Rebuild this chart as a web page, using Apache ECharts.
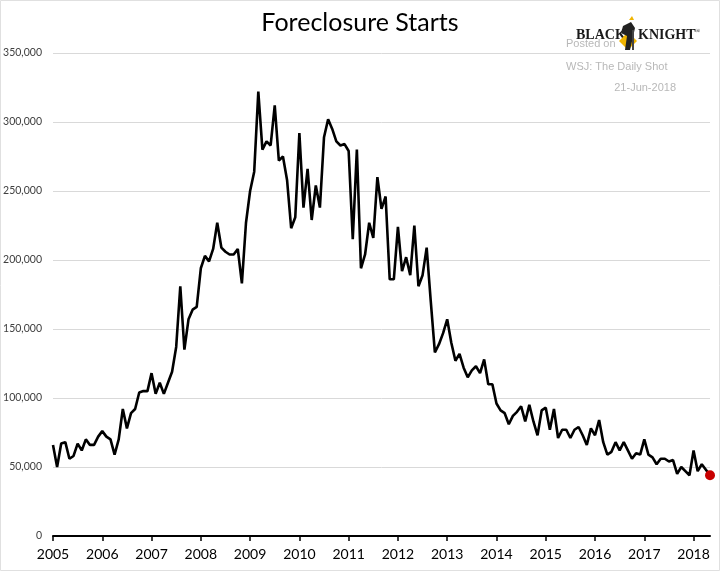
<!DOCTYPE html>
<html>
<head>
<meta charset="utf-8">
<script src="https://cdn.jsdelivr.net/npm/echarts@6/dist/echarts.min.js"></script>
<style>
html,body{margin:0;padding:0;background:#fff;}
#c{width:720px;height:571px;}
</style>
</head>
<body>
<div id="c"></div>
<script>
// Tick labels (years) on the x axis
var yearLabels = ['2005','2006','2007','2008','2009','2010','2011','2012','2013','2014','2015','2016','2017','2018'];
// Monthly foreclosure starts, thousands (Jan 2005 - May 2018)
var starts2005 = [66, 50, 67, 68, 56, 58, 67, 62, 70, 66, 66, 72];
var starts2006 = [76, 72, 70, 59, 70, 92, 78, 89, 92, 104, 105, 105];
var starts2007 = [118, 103, 111, 103, 111, 119, 137, 181, 135, 157, 164, 166];
var starts2008 = [194, 203, 199, 208, 227, 209, 206, 204, 204, 208, 183, 227];
var starts2009 = [250, 264, 322, 280, 286, 283, 312, 272, 275, 258, 223, 231];
var starts2010 = [292, 238, 266, 229, 254, 238, 289, 302, 295, 286, 283, 284];
var starts2011 = [279, 215, 280, 194, 204, 227, 216, 260, 237, 246, 186, 186];
var starts2012 = [224, 192, 202, 189, 225, 181, 189, 209, 170, 133, 139, 147];
var starts2013 = [157, 140, 127, 132, 122, 115, 120, 123, 118, 128, 110, 110];
var starts2014 = [96, 91, 89, 81, 87, 90, 94, 83, 95, 83, 73, 91];
var starts2015 = [93, 77, 92, 71, 77, 77, 71, 77, 79, 73, 66, 78];
var starts2016 = [73, 84, 68, 59, 61, 68, 62, 68, 62, 56, 60, 59];
var starts2017 = [70, 59, 57, 52, 56, 56, 54, 55, 45, 50, 47, 44];
var starts2018 = [62, 47, 52, 48, 44];

var yTicks = [0, 50000, 100000, 150000, 200000, 250000, 300000, 350000];

var allYears = [starts2005, starts2006, starts2007, starts2008, starts2009, starts2010, starts2011,
  starts2012, starts2013, starts2014, starts2015, starts2016, starts2017, starts2018];

var categories = [];
var values = [];
for (var y = 0; y < yearLabels.length; y++) {
  var arr = allYears[y];
  for (var m = 0; m < arr.length; m++) {
    categories.push(m === 0 ? yearLabels[y] : yearLabels[y] + '-' + (m + 1));
    values.push(arr[m] * 1000);
  }
}
var lastIdx = values.length - 1;

var chart = echarts.init(document.getElementById('c'), null, {renderer: 'canvas'});
var fontMain = 'Lato, "Open Sans", sans-serif';
chart.setOption({
  animation: false,
  backgroundColor: '#ffffff',
  title: {
    text: 'Foreclosure Starts',
    left: 'center',
    top: 5,
    textStyle: {fontFamily: fontMain, fontSize: 25, fontWeight: 'normal', color: '#000'}
  },
  grid: {left: 53, right: 10, top: 53, bottom: 35, containLabel: false},
  xAxis: {
    type: 'category',
    data: categories,
    boundaryGap: false,
    axisLine: {show: true, lineStyle: {color: '#000', width: 2}},
    axisTick: {
      show: true, length: 5, lineStyle: {color: '#000', width: 1.5},
      interval: function (i) { return i % 12 === 0; }
    },
    axisLabel: {
      interval: function (i) { return i % 12 === 0; },
      formatter: function (v) { return v.slice(0, 4); },
      fontFamily: fontMain, fontSize: 14, color: '#000', margin: 11
    },
    splitLine: {show: false}
  },
  yAxis: {
    type: 'value',
    min: yTicks[0],
    max: yTicks[yTicks.length - 1],
    interval: yTicks[1] - yTicks[0],
    axisLine: {show: false},
    axisTick: {show: false},
    axisLabel: {
      fontFamily: fontMain, fontSize: 10.5, color: '#404040', margin: 11,
      formatter: function (v) { return v.toLocaleString('en-US'); }
    },
    splitLine: {show: true, lineStyle: {color: '#d9d9d9', width: 1}}
  },
  series: [
    {
      type: 'line',
      data: values,
      showSymbol: false,
      symbol: 'none',
      lineStyle: {color: '#000', width: 2.6},
      z: 3
    },
    {
      type: 'scatter',
      data: [[lastIdx, values[lastIdx]]],
      symbol: 'circle',
      symbolSize: 10,
      itemStyle: {color: '#c80000', opacity: 1},
      z: 4
    }
  ],
  graphic: [
    {type: 'rect', shape: {x: 0.5, y: 0.5, width: 719, height: 570}, style: {fill: 'none', stroke: '#e0e0e0', lineWidth: 1}, z: 0},
    {type: 'text', left: 566, top: 38, style: {text: 'Posted on', font: '11px "Liberation Sans", Arial, sans-serif', fill: '#b8b8b8'}, z: 1},
    {type: 'text', left: 566, top: 61, style: {text: 'WSJ: The Daily Shot', font: '11px "Liberation Sans", Arial, sans-serif', fill: '#b8b8b8'}},
    {type: 'text', right: 44, top: 82, style: {text: '21-Jun-2018', font: '11px "Liberation Sans", Arial, sans-serif', fill: '#b8b8b8', align: 'right'}},
    {type: 'text', left: 576, top: 28, style: {text: 'BLACK', font: 'bold 14px "Liberation Serif", "DejaVu Serif", serif', fill: '#1a1a1a'}, z: 10},
    {type: 'text', left: 638, top: 28, style: {text: 'KNIGHT', font: 'bold 14px "Liberation Serif", "DejaVu Serif", serif', fill: '#1a1a1a'}, z: 10},
    {type: 'text', left: 695, top: 28, style: {text: '®', font: '7px "Liberation Serif", serif', fill: '#1a1a1a'}, z: 10},
    {type: 'polygon', shape: {points: [[628, 32], [637, 41], [628, 50], [619, 41]]}, style: {fill: '#f0b400'}, z: 10},
    {type: 'polygon', shape: {points: [[623, 26], [631, 22], [635, 28], [630, 50], [625, 50], [627, 36], [621, 33]]}, style: {fill: '#222'}, z: 11},
    {type: 'rect', shape: {x: 632, y: 30, width: 2, height: 20}, style: {fill: '#444'}, z: 11},
    {type: 'polygon', shape: {points: [[629, 20], [632, 16], [634, 20]]}, style: {fill: '#f0b400'}, z: 11}
  ]
});
</script>
</body>
</html>
